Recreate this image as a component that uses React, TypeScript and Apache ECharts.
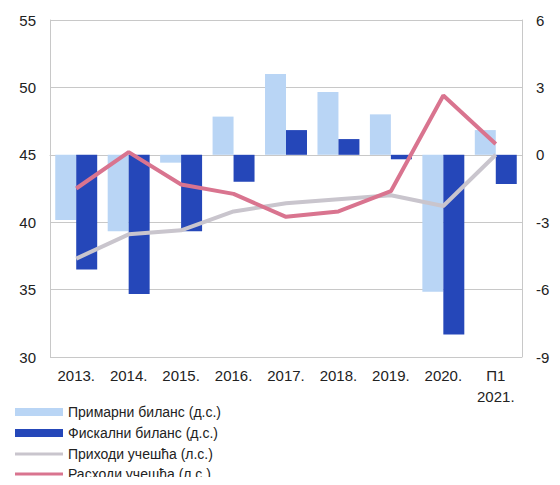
import React, { useEffect, useRef } from "react";
import * as echarts from "echarts";

const categories = ["2013.", "2014.", "2015.", "2016.", "2017.", "2018.", "2019.", "2020.", "П1\n2021."];
const primaryBalance = [-2.9, -3.4, -0.35, 1.7, 3.6, 2.8, 1.8, -6.1, 1.1];
const fiscalBalance = [-5.1, -6.2, -3.4, -1.2, 1.1, 0.7, -0.2, -8.0, -1.3];
const revenue = [37.3, 39.1, 39.4, 40.8, 41.4, 41.7, 42.0, 41.2, 45.0];
const expenditure = [42.5, 45.2, 42.8, 42.1, 40.4, 40.8, 42.3, 49.4, 45.8];
const seriesNames = [
  "Примарни биланс (д.с.)",
  "Фискални биланс (д.с.)",
  "Приходи учешћа (л.с.)",
  "Расходи учешћа (л.с.)",
];

const FONT = "Liberation Sans, Arial, sans-serif";
const legendTops = [405, 426, 447, 467];
const lineIcon = "path://M0,0 h16 v1 h-16 z";

export default function App() {
  const ref = useRef<HTMLDivElement>(null);
  useEffect(() => {
    if (!ref.current) return;
    const chart = echarts.init(ref.current, undefined, { renderer: "svg" });
    chart.setOption({
      animation: false,
      textStyle: { fontFamily: FONT },
      grid: { left: 50, right: 38, top: 20, bottom: 128 },
      legend: seriesNames.map((name, i) => ({
        orient: "vertical",
        left: 15,
        top: legendTops[i],
        padding: 0,
        itemWidth: 48,
        itemHeight: 8,
        itemGap: 0,
        textStyle: { fontSize: 14, color: "#222", fontFamily: FONT },
        data: [{ name, icon: i < 2 ? "rect" : lineIcon }],
      })),
      xAxis: {
        type: "category",
        data: categories,
        axisLine: { show: true, lineStyle: { color: "#c8c8c8" } },
        axisTick: { show: false },
        axisLabel: { color: "#222", fontSize: 15, margin: 8, lineHeight: 21, fontFamily: FONT },
      },
      yAxis: [
        {
          type: "value",
          min: 30,
          max: 55,
          interval: 5,
          axisLine: { show: true, lineStyle: { color: "#c8c8c8" } },
          axisTick: { show: false },
          splitLine: { lineStyle: { color: "#c8c8c8" } },
          axisLabel: { color: "#222", fontSize: 15, margin: 14, fontFamily: FONT },
        },
        {
          type: "value",
          min: -9,
          max: 6,
          interval: 3,
          axisLine: { show: true, lineStyle: { color: "#c8c8c8" } },
          axisTick: { show: false },
          splitLine: { show: false },
          axisLabel: { color: "#222", fontSize: 15, margin: 14, fontFamily: FONT },
        },
      ],
      series: [
        {
          name: seriesNames[0],
          type: "bar",
          yAxisIndex: 1,
          data: primaryBalance,
          barGap: "0%",
          barCategoryGap: "20%",
          itemStyle: { color: "#b9d5f5" },
        },
        {
          name: seriesNames[1],
          type: "bar",
          yAxisIndex: 1,
          data: fiscalBalance,
          barGap: "0%",
          barCategoryGap: "20%",
          itemStyle: { color: "#2547b9" },
        },
        {
          name: seriesNames[2],
          type: "line",
          yAxisIndex: 0,
          data: revenue,
          symbol: "none",
          lineStyle: { color: "#c9c5cd", width: 4 },
          itemStyle: { color: "#c9c5cd" },
        },
        {
          name: seriesNames[3],
          type: "line",
          yAxisIndex: 0,
          data: expenditure,
          symbol: "none",
          lineStyle: { color: "#d9748f", width: 4 },
          itemStyle: { color: "#d9748f" },
        },
      ],
    });
    return () => chart.dispose();
  }, []);
  return <div ref={ref} style={{ width: 560, height: 485, margin: -8 }} />;
}
